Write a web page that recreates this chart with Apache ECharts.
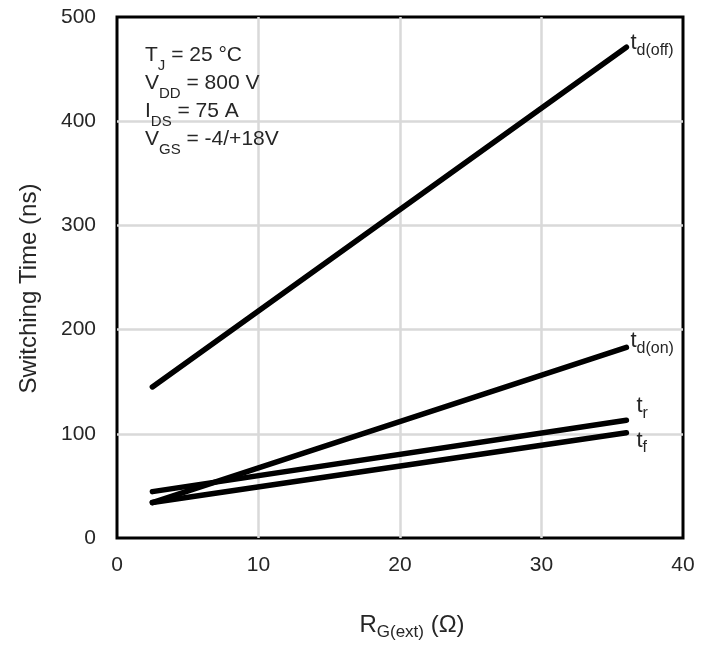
<!DOCTYPE html>
<html><head><meta charset="utf-8">
<script src="https://cdn.jsdelivr.net/npm/echarts@6/dist/echarts.min.js"></script>
<style>html,body{margin:0;padding:0;background:#fff}#c{width:710px;height:650px}</style>
</head><body><div id="c"></div>
<script>
const rg = [2.5, 36];
const tdOff = [145, 471];
const tdOn = [34, 183];
const tr = [44.5, 113];
const tf = [34, 101];
const xTicks = [0, 40, 10];
const yTicks = [0, 500, 100];

const FONT = '"Liberation Sans", Arial, sans-serif';
const COL = '#262626';
const chart = echarts.init(document.getElementById('c'), null, {renderer: 'canvas'});
function mk(name, ys, fmt, off) {
  return {
    name, type: 'line', data: rg.map((x, i) => [x, ys[i]]),
    showSymbol: false, symbol: 'none',
    lineStyle: {color: '#000', width: 5.5, cap: 'round'},
    endLabel: {show: true, formatter: fmt, offset: off, distance: 0,
      rich: {m: {fontSize: 22, fontFamily: FONT, color: COL, lineHeight: 26, verticalAlign: 'top'},
             s: {fontSize: 16, fontFamily: FONT, color: COL, lineHeight: 14, verticalAlign: 'bottom'}}},
    animation: false
  };
}
const rich = {
  m: {fontSize: 21, fontFamily: FONT, fontWeight: 'normal', color: COL, lineHeight: 28, verticalAlign: 'top'},
  s: {fontSize: 15, fontFamily: FONT, fontWeight: 'normal', color: COL, lineHeight: 14, verticalAlign: 'bottom'}
};
chart.setOption({
  animation: false,
  backgroundColor: '#fff',
  title: {
    left: 145, top: 45, padding: 0,
    text: '{m|T}{s|J}{m| = 25 °C}\n{m|V}{s|DD}{m| = 800 V}\n{m|I}{s|DS}{m| = 75 A}\n{m|V}{s|GS}{m| = -4/+18V}',
    textStyle: {fontWeight: 'normal', rich}
  },
  grid: {left: 117, top: 17, right: 27, bottom: 112, show: true, borderColor: '#000', borderWidth: 3},
  xAxis: {
    type: 'value', min: xTicks[0], max: xTicks[1], interval: xTicks[2],
    axisLine: {show: false}, axisTick: {show: false},
    splitLine: {showMinLine: false, showMaxLine: false, lineStyle: {color: '#d9d9d9', width: 2.5}},
    axisLabel: {fontSize: 21, fontFamily: FONT, color: COL, margin: 17},
    name: '{m|R}{s|G(ext)}{m| (Ω)}', nameLocation: 'middle', nameGap: 75,
    nameTextStyle: {padding: [0, 0, 0, 24], rich: {
      m: {fontSize: 24, fontFamily: FONT, color: COL, lineHeight: 28, verticalAlign: 'top'},
      s: {fontSize: 17, fontFamily: FONT, color: COL, lineHeight: 16, verticalAlign: 'bottom'}}}
  },
  yAxis: {
    type: 'value', min: yTicks[0], max: yTicks[1], interval: yTicks[2],
    axisLine: {show: false}, axisTick: {show: false},
    splitLine: {showMinLine: false, showMaxLine: false, lineStyle: {color: '#d9d9d9', width: 2.5}},
    axisLabel: {fontSize: 21, fontFamily: FONT, color: COL, margin: 21},
    name: 'Switching Time (ns)', nameLocation: 'middle', nameGap: 76,
    nameTextStyle: {fontSize: 24, fontFamily: FONT, color: COL, padding: [0, 22, 0, 0]}
  },
  series: [
    mk('td(off)', tdOff, '{m|t}{s|d(off)}', [4, -2]),
    mk('td(on)', tdOn, '{m|t}{s|d(on)}', [4, -4]),
    mk('tr', tr, '{m|t}{s|r}', [10, -12]),
    mk('tf', tf, '{m|t}{s|f}', [10, 10])
  ]
});
</script></body></html>
